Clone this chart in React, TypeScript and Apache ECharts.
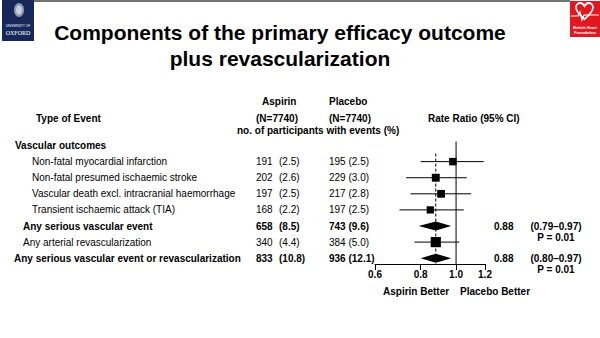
import React, { useEffect, useRef } from 'react';
import * as echarts from 'echarts';

const titleLines = ['Components of the primary efficacy outcome', 'plus revascularization'];
const sectionLabel = 'Vascular outcomes';
const events = [
  'Non-fatal myocardial infarction',
  'Non-fatal presumed ischaemic stroke',
  'Vascular death excl. intracranial haemorrhage',
  'Transient ischaemic attack (TIA)',
  'Any serious vascular event',
  'Any arterial revascularization',
  'Any serious vascular event or revascularization',
];
const eventLevel = [2, 2, 2, 2, 1, 1, 0];
const eventBold = [false, false, false, false, true, false, true];
const aspirinCount = [191, 202, 197, 168, 658, 340, 833];
const aspirinPct = ['2.5', '2.6', '2.5', '2.2', '8.5', '4.4', '10.8'];
const placeboCount = [195, 229, 217, 197, 743, 384, 936];
const placeboPct = ['2.5', '3.0', '2.8', '2.5', '9.6', '5.0', '12.1'];
const rateRatio = [0.98, 0.88, 0.91, 0.85, 0.88, 0.88, 0.88];
const ciLow = [0.8, 0.73, 0.75, 0.7, 0.79, 0.77, 0.8];
const ciHigh = [1.19, 1.07, 1.1, 1.05, 0.97, 1.02, 0.97];
const markShape = ['square', 'square', 'square', 'square', 'diamond', 'square', 'diamond'];
const pValue = [null, null, null, null, '0.01', null, '0.01'];
const pooledRatio = 0.88;
const xTicks = [0.6, 0.8, 1.0, 1.2];
const groupNames = ['Aspirin', 'Placebo'];
const groupN = [7740, 7740];

const FONT = '"Liberation Sans", Arial, Helvetica, sans-serif';
const ROW0 = 145.5;
const ROWH = 16.1;
const rowY = (r: number) => ROW0 + ROWH * r;
const Y_MIN = -0.25;
const Y_MAX = 7.36;

function txt(text: string, x: number, y: number, o: any = {}) {
  return {
    type: 'text',
    x,
    y,
    silent: true,
    style: {
      text,
      fill: o.color || '#000',
      fontFamily: o.family || FONT,
      fontSize: o.size || 10,
      fontWeight: o.bold ? 'bold' : 'normal',
      textAlign: o.align || 'left',
      textVerticalAlign: 'middle',
      align: o.align || 'left',
      verticalAlign: 'middle',
    },
  };
}

const HEART =
  'M10 18 C 4 13, 0 9, 0 5 C 0 2, 2.5 0, 5 0 C 7 0, 9 1.5, 10 3.5 C 11 1.5, 13 0, 15 0 C 17.5 0, 20 2, 20 5 C 20 9, 16 13, 10 18 Z';
let heartRegistered = false;

export default function App() {
  const ref = useRef<HTMLDivElement>(null);
  useEffect(() => {
    if (!ref.current) return;
    if (!heartRegistered) {
      echarts.graphic.registerShape('bhfheart', echarts.graphic.extendPath(HEART, {}));
      heartRegistered = true;
    }
    const chart = echarts.init(ref.current, null, { renderer: 'svg' });

    const g: any[] = [];
    // top border
    g.push({ type: 'line', shape: { x1: 34, y1: 1, x2: 570, y2: 1 }, style: { stroke: '#444', lineWidth: 1.5 } });
    // Oxford logo
    g.push({ type: 'rect', shape: { x: 2, y: 0, width: 32, height: 41 }, style: { fill: '#16285a' } });
    g.push({ type: 'ellipse', shape: { cx: 19, cy: 10, rx: 5, ry: 7 }, style: { fill: '#8e98b4' } });
    g.push({ type: 'ellipse', shape: { cx: 19, cy: 10, rx: 3, ry: 4.5 }, style: { fill: '#c9cedc' } });
    g.push(txt('UNIVERSITY OF', 18, 26, { size: 3.2, color: '#fff', align: 'center' }));
    g.push(txt('OXFORD', 18, 32.5, { size: 6, color: '#fff', align: 'center', family: '"Liberation Serif", "DejaVu Serif", serif' }));
    // BHF logo
    g.push({ type: 'rect', shape: { x: 570, y: 1, width: 30, height: 36 }, style: { fill: '#e3171f' } });
    g.push({
      type: 'bhfheart',
      x: 576,
      y: 3,
      scaleX: 0.85,
      scaleY: 0.9,
      style: { fill: 'none', stroke: '#fff', lineWidth: 2 },
    });
    g.push({
      type: 'polyline',
      shape: { points: [[571, 16], [578, 16], [580, 12], [582, 20], [584, 15], [599, 15]] },
      style: { stroke: '#fff', lineWidth: 1.2, fill: 'none' },
    });
    g.push(txt('British Heart', 585, 27, { size: 4, color: '#fff', bold: true, align: 'center' }));
    g.push(txt('Foundation', 585, 32, { size: 4, color: '#fff', bold: true, align: 'center' }));

    // title
    g.push(txt(titleLines[0], 280, 32, { size: 21, bold: true, align: 'center' }));
    g.push(txt(titleLines[1], 280, 58, { size: 21, bold: true, align: 'center' }));

    // headers
    g.push(txt(groupNames[0], 262, 101, { bold: true }));
    g.push(txt(groupNames[1], 329, 101, { bold: true }));
    g.push(txt(`(N=${groupN[0]})`, 256, 118, { bold: true }));
    g.push(txt(`(N=${groupN[1]})`, 329, 118, { bold: true }));
    g.push(txt('no. of participants with events (%)', 237, 130, { bold: true }));
    g.push(txt('Type of Event', 36, 118, { bold: true }));
    g.push(txt('Rate Ratio (95% CI)', 428, 118, { bold: true }));

    g.push(txt(sectionLabel, 15, rowY(0), { bold: true }));
    const levelX = [14, 23, 32];
    events.forEach((name, i) => {
      const y = rowY(i + 1);
      const b = eventBold[i];
      g.push(txt(name, levelX[eventLevel[i]], y, { bold: b }));
      g.push(txt(String(aspirinCount[i]), 256, y, { bold: b }));
      g.push(txt(`(${aspirinPct[i]})`, 279, y, { bold: b }));
      g.push(txt(`${placeboCount[i]} (${placeboPct[i]})`, 329, y, { bold: b }));
      if (pValue[i]) {
        g.push(txt(rateRatio[i].toFixed(2), 494, y, { bold: true }));
        g.push(txt(`(${ciLow[i].toFixed(2)}\u2013${ciHigh[i].toFixed(2)})`, 556, y, { bold: true, align: 'center' }));
        g.push(txt(`P = ${pValue[i]}`, 556, y + 11, { bold: true, align: 'center' }));
      }
    });
    g.push(txt('Aspirin Better', 383, 291, { bold: true }));
    g.push(txt('Placebo Better', 460, 291, { bold: true }));

    const lnTicks = xTicks.map((v) => Math.log(v));
    const forestData = events.map((_, i) => [
      i + 1,
      Math.log(rateRatio[i]),
      Math.log(ciLow[i]),
      Math.log(ciHigh[i]),
    ]);

    chart.setOption({
      animation: false,
      backgroundColor: '#fff',
      grid: { left: 375, right: 115, top: 141.5, bottom: 74, containLabel: false },
      xAxis: {
        type: 'value',
        min: Math.log(xTicks[0]),
        max: Math.log(xTicks[xTicks.length - 1]),
        axisLine: { show: true, onZero: false, lineStyle: { color: '#000', width: 1 } },
        axisTick: { show: true, length: 6, lineStyle: { color: '#000', width: 1 }, customValues: lnTicks },
        axisLabel: {
          customValues: lnTicks,
          formatter: (v: number) => Math.exp(v).toFixed(1),
          color: '#000',
          fontWeight: 'bold',
          fontSize: 10,
          fontFamily: FONT,
          margin: 5,
        },
        splitLine: { show: false },
      },
      yAxis: { type: 'value', inverse: true, min: Y_MIN, max: Y_MAX, show: false },
      series: [
        {
          type: 'line',
          data: [
            [0, Y_MIN],
            [0, Y_MAX],
          ],
          symbol: 'none',
          lineStyle: { color: '#000', width: 1 },
          silent: true,
        },
        {
          type: 'line',
          data: [
            [Math.log(pooledRatio), 0.5],
            [Math.log(pooledRatio), Y_MAX],
          ],
          symbol: 'none',
          lineStyle: { color: '#000', width: 1, type: [3, 2] },
          silent: true,
        },
        {
          type: 'custom',
          data: forestData,
          encode: { x: [1, 2, 3], y: 0 },
          renderItem: (params: any, api: any) => {
            const i = params.dataIndex;
            const yv = api.value(0);
            const c = api.coord([api.value(1), yv]);
            const lo = api.coord([api.value(2), yv]);
            const hi = api.coord([api.value(3), yv]);
            if (markShape[i] === 'diamond') {
              const h = 4.5;
              return {
                type: 'polygon',
                shape: {
                  points: [
                    [lo[0], c[1]],
                    [c[0], c[1] - h],
                    [hi[0], c[1]],
                    [c[0], c[1] + h],
                  ],
                },
                style: { fill: '#000' },
              };
            }
            const s = 0.38 * Math.sqrt(aspirinCount[i] + placeboCount[i]);
            return {
              type: 'group',
              children: [
                { type: 'line', shape: { x1: lo[0], y1: c[1], x2: hi[0], y2: c[1] }, style: { stroke: '#000', lineWidth: 1 } },
                { type: 'rect', shape: { x: c[0] - s / 2, y: c[1] - s / 2, width: s, height: s }, style: { fill: '#000' } },
              ],
            };
          },
          silent: true,
        },
      ],
      graphic: { elements: g },
    });
    return () => chart.dispose();
  }, []);
  return (
    <div
      ref={ref}
      style={{ position: 'fixed', left: 0, top: 0, width: 600, height: 338, background: '#fff' }}
    />
  );
}
